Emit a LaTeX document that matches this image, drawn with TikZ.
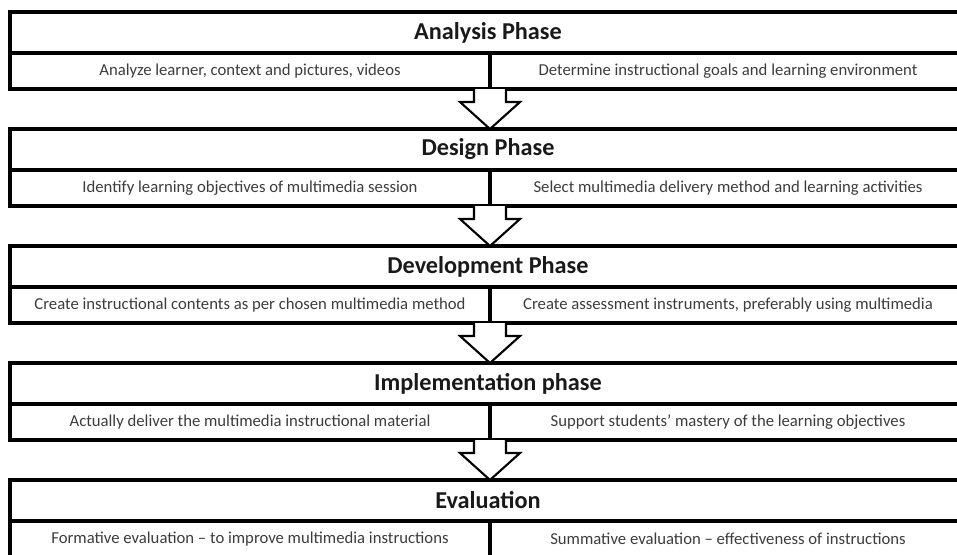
\documentclass[tikz,border=0pt]{standalone}
\usepackage{fontspec}
\setmainfont{Carlito}
\usetikzlibrary{calc}

\definecolor{celltext}{RGB}{60,60,60}
\definecolor{headtext}{RGB}{25,25,25}

\tikzset{
  phasehead/.style={draw, line width=1.8pt, outer sep=0pt, inner sep=0pt,
    minimum width=19.12cm, minimum height=0.82cm, anchor=north west,
    text=headtext, font=\bfseries\fontsize{13.8}{15}\selectfont},
  phasecell/.style={draw, line width=1.8pt, outer sep=0pt, inner sep=0pt,
    minimum height=0.72cm, anchor=north west,
    text=celltext, font=\fontsize{9.5}{11}\selectfont},
  leftcell/.style={phasecell, minimum width=9.6cm},
  rightcell/.style={phasecell, minimum width=9.52cm},
  blockarrow/.style={draw, fill=white, line width=1.2pt, line join=miter},
}

% block arrow from the divider foot (#1) down to the next phase (#2)
\newcommand{\phasearrow}[2]{%
  \draw[blockarrow] ($(#1)+(-0.32,0)$) -- ($(#1)+(-0.32,-0.26)$)
    -- ($(#1)+(-0.6,-0.26)$) -- (#2) -- ($(#1)+(0.6,-0.26)$)
    -- ($(#1)+(0.32,-0.26)$) -- ($(#1)+(0.32,0)$);}

\begin{document}
\begin{tikzpicture}
    \useasboundingbox (0,0) rectangle (19.14,-11.08);
    \clip (0,0) rectangle (19.14,-11.08);

    % Analysis
    \node[phasehead] (ana) at (0.2,-0.24) {Analysis Phase};
    \node[leftcell] (ana-l) at (ana.south west) {Analyze learner, context and pictures, videos};
    \node[rightcell] (ana-r) at (ana-l.north east) {Determine instructional goals and learning environment};

    % Design
    \node[phasehead] (des) at (0.2,-2.58) {Design Phase};
    \node[leftcell] (des-l) at (des.south west) {Identify learning objectives of multimedia session};
    \node[rightcell] (des-r) at (des-l.north east) {Select multimedia delivery method and learning activities};

    % Development
    \node[phasehead] (dev) at (0.2,-4.92) {Development Phase};
    \node[leftcell] (dev-l) at (dev.south west) {Create instructional contents as per chosen multimedia method};
    \node[rightcell] (dev-r) at (dev-l.north east) {Create assessment instruments, preferably using multimedia};

    % Implementation
    \node[phasehead] (imp) at (0.2,-7.26) {Implementation phase};
    \node[leftcell] (imp-l) at (imp.south west) {Actually deliver the multimedia instructional material};
    \node[rightcell] (imp-r) at (imp-l.north east) {Support students' mastery of the learning objectives};

    % Evaluation
    \node[phasehead] (eva) at (0.2,-9.6) {Evaluation};
    \node[leftcell] (eva-l) at (eva.south west) {Formative evaluation -- to improve multimedia instructions};
    \node[rightcell] (eva-r) at (eva-l.north east) {Summative evaluation -- effectiveness of instructions};

    % Arrows between phases
    \phasearrow{ana-l.south east}{des.north -| ana-l.south east}
    \phasearrow{des-l.south east}{dev.north -| des-l.south east}
    \phasearrow{dev-l.south east}{imp.north -| dev-l.south east}
    \phasearrow{imp-l.south east}{eva.north -| imp-l.south east}
\end{tikzpicture}
\end{document}
